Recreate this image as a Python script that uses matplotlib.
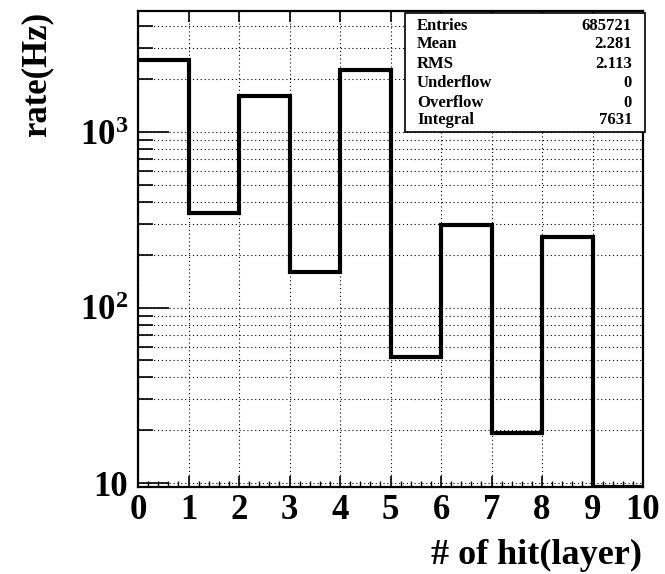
import matplotlib
matplotlib.use("Agg")
import matplotlib.pyplot as plt
from matplotlib.patches import Rectangle
from matplotlib.ticker import FixedLocator, MultipleLocator, NullFormatter
import numpy as np

# Data
bin_edges = [0, 1, 2, 3, 4, 5, 6, 7, 8, 9, 10]
rates = [2580, 345, 1616, 159, 2265, 52, 297, 19.3, 251, 9.5]
stat_names = ["Entries", "Mean", "RMS", "Underflow", "Overflow", "Integral"]
stat_values = ["685721", "2.281", "2.113", "0", "0", "7631"]
x_ticks = [0, 1, 2, 3, 4, 5, 6, 7, 8, 9, 10]
y_major = [10, 100, 1000]
y_major_labels = ["10", r"$\mathbf{10^{2}}$", r"$\mathbf{10^{3}}$"]

plt.rcParams['font.family'] = ['Liberation Serif', 'DejaVu Serif']
plt.rcParams['font.weight'] = 'bold'
plt.rcParams['mathtext.fontset'] = 'custom'
plt.rcParams['mathtext.rm'] = 'Liberation Serif:bold'
plt.rcParams['mathtext.bf'] = 'Liberation Serif:bold'
plt.rcParams['mathtext.it'] = 'Liberation Serif:bold'

W, H = 665, 574
fig = plt.figure(figsize=(W / 100, H / 100), dpi=100)
ax = fig.add_axes([138 / W, 1 - 487 / H, (643 - 138) / W, (487 - 11) / H])

ax.stairs(rates, bin_edges, baseline=None, color='black', lw=3.0, zorder=3)

ax.set_yscale('log')
ax.set_xlim(0, 10)
ax.set_ylim(9.5, 4900)

ax.xaxis.set_major_locator(FixedLocator(x_ticks))
ax.xaxis.set_minor_locator(MultipleLocator(0.2))
ax.set_xticklabels([str(t) for t in x_ticks])
ax.yaxis.set_major_locator(FixedLocator(y_major))
ax.set_yticklabels(y_major_labels)
minor_y = [m * 10 ** e for e in range(1, 4) for m in range(2, 10)]
ax.yaxis.set_minor_locator(FixedLocator(minor_y))
ax.yaxis.set_minor_formatter(NullFormatter())

ax.tick_params(axis='x', which='major', direction='in', length=8, width=1.2,
               top=True, labelsize=25, pad=5)
ax.tick_params(axis='x', which='minor', direction='in', length=4, width=1.0, top=False)
ax.tick_params(axis='y', which='major', direction='in', length=22, width=1.2,
               labelsize=25, pad=7)
ax.tick_params(axis='y', which='minor', direction='in', length=11, width=1.2)

for lab in ax.get_xticklabels() + ax.get_yticklabels():
    lab.set_fontweight('bold')

ax.grid(True, which='major', axis='x', linestyle=(0, (1, 2.5)), color='black', lw=0.8)
ax.grid(True, which='both', axis='y', linestyle=(0, (1, 2.5)), color='black', lw=0.8)

for s in ax.spines.values():
    s.set_linewidth(1.6)

fig.text(642 / W, 1 - 555 / H, "# of hit(layer)", ha='right', va='center',
         fontsize=26, fontweight='bold')
fig.text(37 / W, 1 - 74 / H, "rate(Hz)", ha='center', va='center',
         rotation=90, fontsize=25, fontweight='bold')

# Stats box
bx0, bx1, by0, by1 = 405, 645, 13, 132
rect = Rectangle((bx0 / W, 1 - by1 / H), (bx1 - bx0) / W, (by1 - by0) / H,
                 transform=fig.transFigure, facecolor='white', edgecolor='black',
                 lw=1.2, zorder=10)
fig.patches.append(rect)
row_y = [26, 44, 64, 83, 103, 120]
for name, val, yy in zip(stat_names, stat_values, row_y):
    fig.text(417 / W, 1 - yy / H, name, ha='left', va='center', fontsize=12,
             fontweight='bold', zorder=11)
    fig.text(632 / W, 1 - yy / H, val, ha='right', va='center', fontsize=12,
             fontweight='bold', zorder=11)

fig.savefig("out.png", dpi=100)
